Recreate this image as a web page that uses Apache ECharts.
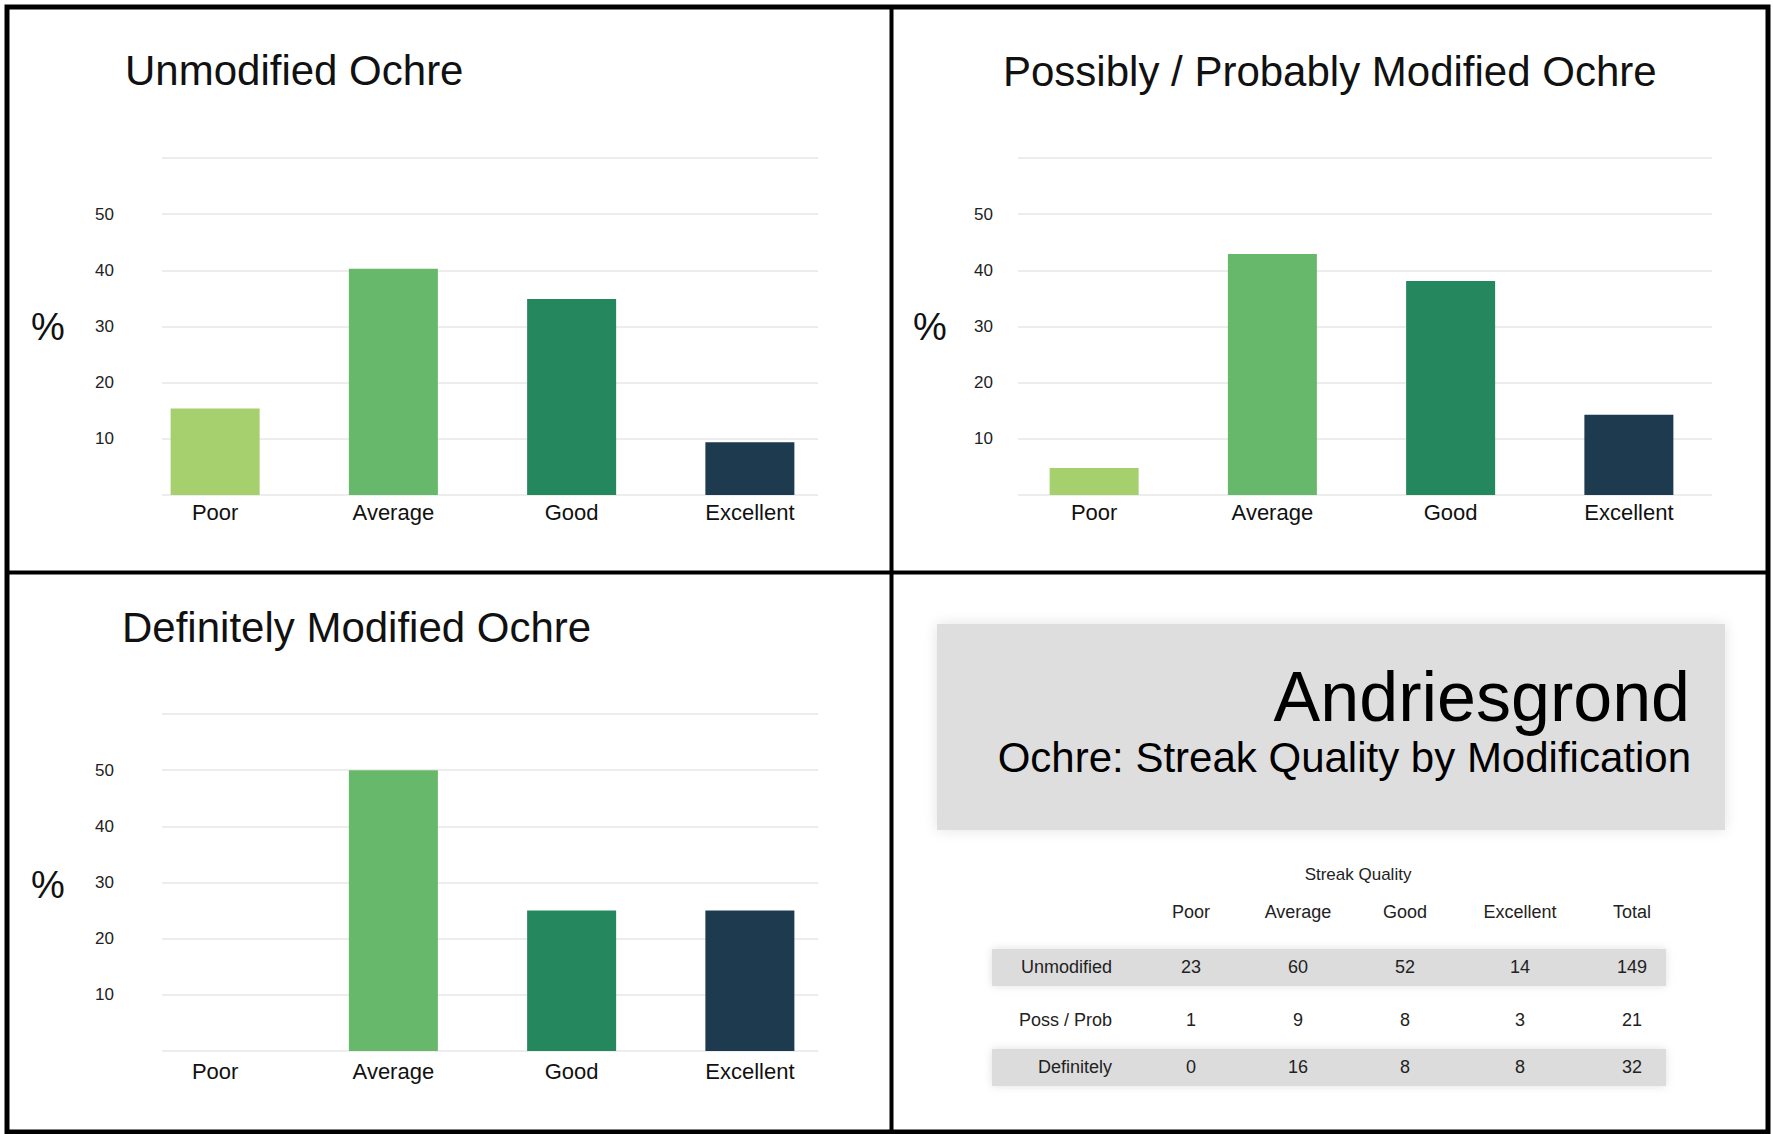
<!DOCTYPE html>
<html>
<head>
<meta charset="utf-8">
<script src="https://cdn.jsdelivr.net/npm/echarts@6/dist/echarts.min.js"></script>
<style>
  html, body { margin: 0; padding: 0; background: #fff; }
  #main { width: 1773px; height: 1134px; }
</style>
</head>
<body>
<div id="main"></div>
<script>
// streak quality percentages
var categories = ['Poor', 'Average', 'Good', 'Excellent'];
var unmodifiedPct = [15.4, 40.3, 34.9, 9.4];
var possProbPct = [4.8, 42.9, 38.1, 14.3];
var definitelyPct = [0, 50, 25, 25];
var yTicks = [10, 20, 30, 40, 50];
var barColors = ['#a6cf6d', '#68b86c', '#24875d', '#1e3a4e'];

// counts table
var tableColumns = ['Poor', 'Average', 'Good', 'Excellent', 'Total'];
var tableRows = ['Unmodified', 'Poss / Prob', 'Definitely'];
var tableCounts = [
    [23, 60, 52, 14, 149],
    [1, 9, 8, 3, 21],
    [0, 16, 8, 8, 32]
];

var FONT = '"Liberation Sans", Arial, sans-serif';

var chartDom = document.getElementById('main');
var myChart = echarts.init(chartDom, null, { renderer: 'svg' });

var panels = [
    { title: 'Unmodified Ochre', data: unmodifiedPct, left: 126, top: 158, lineLeft: 162, lineWidth: 656, titleX: 125, titleY: 74, pctX: 48, pctY: 327, labelMargin: 6 },
    { title: 'Possibly / Probably Modified Ochre', data: possProbPct, left: 1005, top: 158, lineLeft: 1018, lineWidth: 694, titleX: 1003, titleY: 75, pctX: 930, pctY: 327, labelMargin: 6 },
    { title: 'Definitely Modified Ochre', data: definitelyPct, left: 126, top: 714, lineLeft: 162, lineWidth: 656, titleX: 122, titleY: 631, pctX: 48, pctY: 885, labelMargin: 9 }
];

var grids = [], xAxes = [], yAxes = [], series = [], graphics = [];

panels.forEach(function (p, i) {
    // grid holding only the light gridlines
    grids.push({ left: p.lineLeft, top: p.top, width: p.lineWidth, height: 337 });
    xAxes.push({ gridIndex: grids.length - 1, type: 'value', min: 0, max: 1, show: false });
    yAxes.push({
        gridIndex: grids.length - 1, type: 'value', min: 0, max: 60, interval: 10,
        axisLine: { show: false }, axisTick: { show: false }, axisLabel: { show: false },
        splitLine: { show: true, lineStyle: { color: '#e7e7e7', width: 1.5 } }
    });

    // grid for the bars
    grids.push({ left: p.left, top: p.top, width: 713, height: 337 });
    var gi = grids.length - 1;
    xAxes.push({
        gridIndex: gi, type: 'category', data: categories,
        axisLine: { show: false }, axisTick: { show: false },
        axisLabel: { color: '#111', fontSize: 22, fontFamily: FONT, margin: p.labelMargin }
    });
    yAxes.push({
        gridIndex: gi, type: 'value', min: 0, max: 60, interval: 10,
        axisLine: { show: false }, axisTick: { show: false }, splitLine: { show: false },
        axisLabel: {
            color: '#222', fontSize: 17, fontFamily: FONT, margin: 12,
            formatter: function (v) { return yTicks.indexOf(v) >= 0 ? String(v) : ''; }
        }
    });
    series.push({
        type: 'bar', xAxisIndex: gi, yAxisIndex: gi, barWidth: 89,
        data: p.data.map(function (v, k) {
            return { value: v, itemStyle: { color: barColors[k] } };
        })
    });

    graphics.push({
        type: 'text', left: p.titleX, top: p.titleY - 25,
        style: { text: p.title, fontSize: 42, fontFamily: FONT, fill: '#111' }
    });
    graphics.push({
        type: 'text', x: p.pctX, y: p.pctY,
        style: { text: '%', fontSize: 38, fontFamily: FONT, fill: '#111', align: 'center', verticalAlign: 'middle' }
    });
});

// heading box in the fourth panel
graphics.push({
    type: 'rect', shape: { x: 937, y: 624, width: 788, height: 206 }, z: -1,
    style: { fill: '#dedede', shadowBlur: 14, shadowColor: '#e2e2e2' }
});
graphics.push({
    type: 'text', x: 1690, y: 697,
    style: { text: 'Andriesgrond', fontSize: 70, fontFamily: FONT, fill: '#000', align: 'right', verticalAlign: 'middle' }
});
graphics.push({
    type: 'text', x: 1691, y: 757,
    style: { text: 'Ochre: Streak Quality by Modification', fontSize: 42, fontFamily: FONT, fill: '#000', align: 'right', verticalAlign: 'middle' }
});

// table
var colX = [1191, 1298, 1405, 1520, 1632];
var rowY = [967, 1020, 1067];
[0, 2].forEach(function (r) {
    graphics.push({
        type: 'rect', shape: { x: 992, y: rowY[r] - 18, width: 674, height: 37 }, z: -1,
        style: { fill: '#dcdcdc', shadowBlur: 8, shadowColor: '#e0e0e0' }
    });
});
graphics.push({
    type: 'text', x: 1358, y: 874,
    style: { text: 'Streak Quality', fontSize: 17, fontFamily: FONT, fill: '#222', align: 'center', verticalAlign: 'middle' }
});
tableColumns.forEach(function (c, k) {
    graphics.push({
        type: 'text', x: colX[k], y: 912,
        style: { text: c, fontSize: 18, fontFamily: FONT, fill: '#222', align: 'center', verticalAlign: 'middle' }
    });
});
tableRows.forEach(function (name, r) {
    graphics.push({
        type: 'text', x: 1112, y: rowY[r],
        style: { text: name, fontSize: 18, fontFamily: FONT, fill: '#222', align: 'right', verticalAlign: 'middle' }
    });
    tableCounts[r].forEach(function (v, k) {
        graphics.push({
            type: 'text', x: colX[k], y: rowY[r],
            style: { text: String(v), fontSize: 18, fontFamily: FONT, fill: '#222', align: 'center', verticalAlign: 'middle' }
        });
    });
});

// frame and dividers
graphics.push({
    type: 'rect', shape: { x: 7, y: 7, width: 1761, height: 1125 }, z: 10,
    style: { fill: null, stroke: '#000', lineWidth: 5 }
});
graphics.push({
    type: 'line', shape: { x1: 891.5, y1: 7, x2: 891.5, y2: 1132 }, z: 10,
    style: { stroke: '#000', lineWidth: 4 }
});
graphics.push({
    type: 'line', shape: { x1: 7, y1: 572.5, x2: 1768, y2: 572.5 }, z: 10,
    style: { stroke: '#000', lineWidth: 4 }
});

var option = {
    animation: false,
    backgroundColor: '#fff',
    grid: grids,
    xAxis: xAxes,
    yAxis: yAxes,
    series: series,
    graphic: graphics
};

option && myChart.setOption(option);
</script>
</body>
</html>
